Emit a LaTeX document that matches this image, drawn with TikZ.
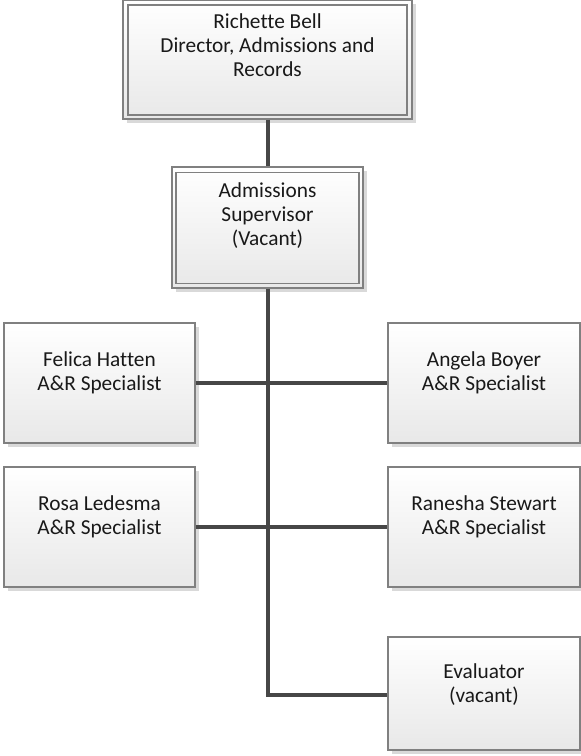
\documentclass[tikz,border=0pt]{standalone}
\usepackage{fontspec}
\setmainfont[Ligatures=NoCommon]{Carlito}
\usetikzlibrary{shadows}
\begin{document}
\begin{tikzpicture}[x=0.75pt,y=-0.75pt,
  box/.style={draw=black!50, line width=0.9pt, top color=white, bottom color=black!9, inner sep=0pt, drop shadow={shadow xshift=3pt, shadow yshift=-3pt, fill=black!15, opacity=1}},
  inbox/.style={draw=black!50, line width=0.9pt, inner sep=0pt},
  txt/.style={align=center, font=\fontsize{16pt}{18pt}\selectfont, text=black!90, inner sep=0pt, anchor=base},
  conn/.style={draw=black!72, line width=2.3pt}]
\useasboundingbox (0,0) rectangle (581,756);
% top box
\node[box, minimum width=289*0.75pt, minimum height=119*0.75pt] (dir) at (267.5,59.5) {};
\node[inbox, minimum width=279*0.75pt, minimum height=110*0.75pt] (dirin) at (267.5,60) {};
\node[txt] (dirt) at (267.5,77) {Richette Bell\\Director, Admissions and\\Records};
% supervisor
\node[box, minimum width=191*0.75pt, minimum height=121*0.75pt] (sup) at (267.5,227.5) {};
\node[inbox, minimum width=183*0.75pt, minimum height=111*0.75pt] (supin) at (267.5,228) {};
\node[txt] (supt) at (267.5,245) {Admissions\\Supervisor\\(Vacant)};
% specialists
\node[box, minimum width=191*0.75pt, minimum height=120*0.75pt] (fel) at (99.5,383) {};
\node[txt] (felt) at (99.5,390) {Felica Hatten\\A\&R Specialist};
\node[box, minimum width=192*0.75pt, minimum height=120*0.75pt] (ang) at (484,383) {};
\node[txt] (angt) at (484,390) {Angela Boyer\\A\&R Specialist};
\node[box, minimum width=191*0.75pt, minimum height=120*0.75pt] (ros) at (99.5,527) {};
\node[txt] (rost) at (99.5,534) {Rosa Ledesma\\A\&R Specialist};
\node[box, minimum width=192*0.75pt, minimum height=120*0.75pt] (ran) at (484,527) {};
\node[txt] (rant) at (484,534) {Ranesha Stewart\\A\&R Specialist};
\node[box, minimum width=192*0.75pt, minimum height=113*0.75pt] (eva) at (484,693.5) {};
\node[txt] (evat) at (484,702) {Evaluator\\(vacant)};
% connectors
\coordinate (j1) at (268,383);
\coordinate (j2) at (268,527);
\coordinate (j3) at (268,695);
\draw[conn] (dir.south -| j1) -- (sup.north -| j1);
\draw[conn] (sup.south -| j1) -- (j3) -- (eva.west |- j3);
\draw[conn] (fel.east) -- (ang.west);
\draw[conn] (ros.east) -- (ran.west);
\end{tikzpicture}
\end{document}
